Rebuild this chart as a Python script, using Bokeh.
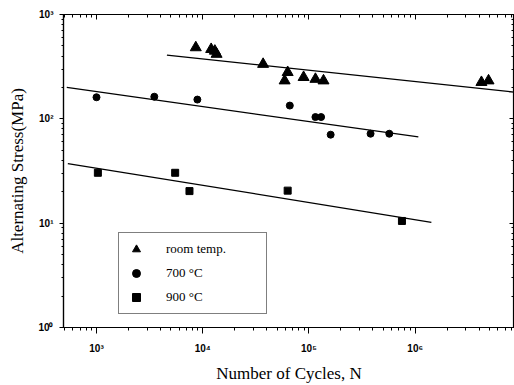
from bokeh.plotting import figure
from bokeh.models import (LogAxis, FixedTicker, CustomJSTickFormatter, Legend, LegendItem,
                          Range1d)
from bokeh.embed import file_html
from bokeh.resources import INLINE

# ---- data ----
rt_cycles = [8.6e3, 1.2e4, 1.3e4, 1.35e4, 3.7e4, 6.3e4, 5.9e4, 8.9e4, 1.15e5, 1.37e5, 4.2e6, 4.9e6]
rt_stress = [482, 464, 447, 417, 334, 279, 232, 250, 240, 232, 224, 232]
t700_cycles = [1.0e3, 3.5e3, 8.9e3, 6.6e4, 1.15e5, 1.3e5, 1.6e5, 3.8e5, 5.7e5]
t700_stress = [161, 163, 153, 134, 104, 104, 70.5, 72, 72]
t900_cycles = [1.03e3, 5.5e3, 7.5e3, 6.3e4, 7.5e5]
t900_stress = [30.4, 30.4, 20.3, 20.5, 10.5]

# fitted trend lines (end points)
rt_fit_cycles = [4.6e3, 8.6e6]
rt_fit_stress = [408, 180]
t700_fit_cycles = [525, 1.07e6]
t700_fit_stress = [200, 67]
t900_fit_cycles = [537, 1.42e6]
t900_fit_stress = [37.3, 10.2]

x_ticks = [1e3, 1e4, 1e5, 1e6]
x_tick_labels = ["10³", "10⁴", "10⁵", "10⁶"]
y_ticks = [1, 10, 100, 1000]
y_tick_labels = ["10⁰", "10¹", "10²", "10³"]
legend_labels = ["room temp.", "700 °C", "900 °C"]

x_minor = [m * 10 ** e for e in range(2, 8) for m in range(1, 10)]
y_minor = [m * 10 ** e for e in range(0, 3) for m in range(1, 10)]

SERIF = "Liberation Serif"

p = figure(width=514, height=385, x_axis_type="log", y_axis_type="log",
           x_range=Range1d(489, 8.6e6), y_range=Range1d(1, 1000),
           output_backend="svg", toolbar_location=None,
           min_border_left=63, min_border_right=0, min_border_top=14, min_border_bottom=55)
p.xgrid.visible = False
p.ygrid.visible = False
p.outline_line_color = "black"
p.outline_line_width = 1.2
p.background_fill_color = "white"
p.border_fill_color = "white"


def fmt(tv, tl):
    return CustomJSTickFormatter(args=dict(tv=tv, tl=tl), code="""
        for (let i = 0; i < tv.length; i++) {
            if (Math.abs(Math.log10(tick) - Math.log10(tv[i])) < 1e-6) return tl[i];
        }
        return "";
    """)


def style(ax, inward):
    ax.axis_line_color = "black"
    ax.axis_line_width = 1.2
    ax.major_tick_line_color = "black"
    ax.minor_tick_line_color = "black"
    ax.major_label_text_color = "black"
    ax.axis_label_text_color = "black"
    if inward:
        ax.major_tick_in, ax.major_tick_out = 5, 0
        ax.minor_tick_in, ax.minor_tick_out = 3, 0
    else:
        ax.major_tick_in, ax.major_tick_out = 0, 6
        ax.minor_tick_in, ax.minor_tick_out = 0, 3


xt = FixedTicker(ticks=x_ticks, minor_ticks=x_minor)
yt = FixedTicker(ticks=y_ticks, minor_ticks=y_minor)

xa = p.xaxis[0]
xa.ticker = xt
xa.formatter = fmt(x_ticks, x_tick_labels)
style(xa, False)
xa.major_label_text_font = "Liberation Sans"
xa.major_label_text_font_size = "10px"
xa.major_label_text_font_style = "bold"
xa.major_label_standoff = 9
xa.axis_label = "Number of Cycles, N"
xa.axis_label_text_font = SERIF
xa.axis_label_text_font_size = "17px"
xa.axis_label_text_font_style = "normal"
xa.axis_label_standoff = 7

ya = p.yaxis[0]
ya.ticker = yt
ya.formatter = fmt(y_ticks, y_tick_labels)
style(ya, False)
ya.major_tick_out = 4
ya.minor_tick_out = 2
ya.major_label_text_font = "Liberation Sans"
ya.major_label_text_font_size = "10px"
ya.major_label_text_font_style = "bold"
ya.major_label_standoff = 6
ya.axis_label = "Alternating Stress(MPa)"
ya.axis_label_text_font = SERIF
ya.axis_label_text_font_size = "17px"
ya.axis_label_text_font_style = "normal"
ya.axis_label_standoff = 8

blank = CustomJSTickFormatter(code="return '';")
top = LogAxis(ticker=xt, formatter=blank, major_label_standoff=0)
style(top, True)
p.add_layout(top, "above")
right = LogAxis(ticker=yt, formatter=blank, major_label_standoff=0)
style(right, True)
p.add_layout(right, "right")

lw = 1.3
p.line(rt_fit_cycles, rt_fit_stress, line_color="black", line_width=lw)
p.line(t700_fit_cycles, t700_fit_stress, line_color="black", line_width=lw)
p.line(t900_fit_cycles, t900_fit_stress, line_color="black", line_width=lw)

r1 = p.scatter(rt_cycles, rt_stress, marker="triangle", size=11, color="black")
r2 = p.scatter(t700_cycles, t700_stress, marker="circle", size=7, color="black")
r3 = p.scatter(t900_cycles, t900_stress, marker="square", size=7, color="black")

legend = Legend(items=[LegendItem(label=legend_labels[0], renderers=[r1]),
                       LegendItem(label=legend_labels[1], renderers=[r2]),
                       LegendItem(label=legend_labels[2], renderers=[r3])],
                location=(55, 13))
legend.border_line_color = "black"
legend.border_line_width = 1.2
legend.background_fill_color = "white"
legend.background_fill_alpha = 1
legend.label_text_font = SERIF
legend.label_text_font_size = "13px"
legend.label_text_color = "black"
legend.glyph_width = 22
legend.glyph_height = 20
legend.label_height = 20
legend.label_standoff = 19
legend.label_width = 94
legend.spacing = 4
legend.padding = 6
legend.margin = 0
p.add_layout(legend, "center")

open("out.html", "w").write(file_html(p, INLINE))
